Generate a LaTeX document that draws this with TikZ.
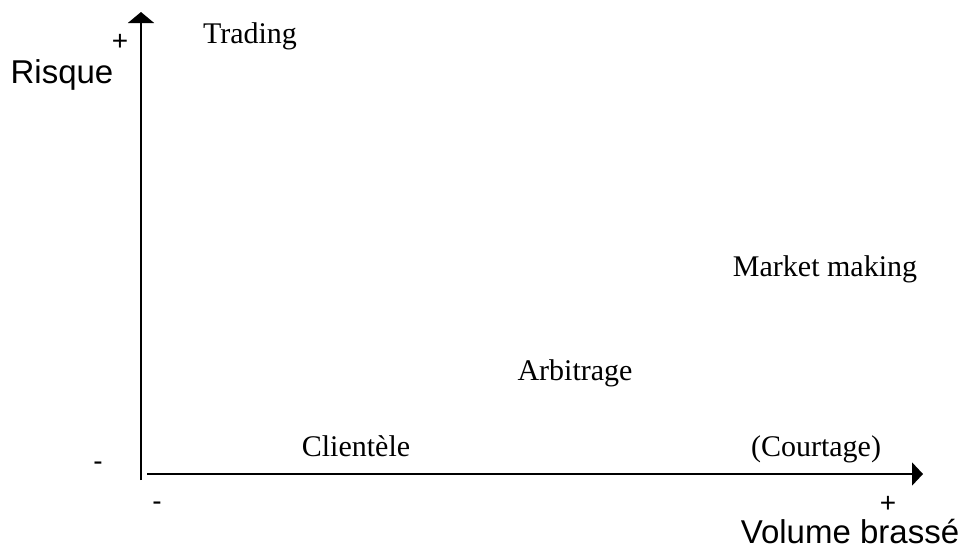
\documentclass[tikz,border=0pt]{standalone}
\usepackage{fontspec}
\setmainfont{Liberation Serif}
\newfontfamily\axisfont{Liberation Sans}
\usepackage{tikz}
\usetikzlibrary{arrows.meta}

\begin{document}
\begin{tikzpicture}[x=1pt,y=-1pt,
        axis/.style={line width=2pt},
        activity/.style={font=\fontsize{30}{36}\selectfont, text height=0.7em, text depth=0.2em},
        axislabel/.style={font=\axisfont\fontsize{33}{40}\selectfont},
        sign/.style={font=\axisfont\fontsize{28}{32}\selectfont}]
        \useasboundingbox (0,0) rectangle (968,552);
        \coordinate (ybot) at (141,480);
        \coordinate (ytop) at (141,12);
        \coordinate (xleft) at (147,474);
        \coordinate (xright) at (923,474);
        \draw [axis, -{Triangle[width=26pt,length=11pt]}] (ybot) -- (ytop);
        \draw [axis, -{Triangle[width=23pt,length=11pt]}] (xleft) -- (xright);
        \node[axislabel] (risque) at (62,75) {Risque};
        \node[axislabel] (volume) at (850,532) {Volume brass\'e};
        \node[sign] (yplus) at (120,42) {+};
        \node[sign] (yminus) at (98,466) {-};
        \node[sign] (xminus) at (157,506) {-};
        \node[sign] (xplus) at (888,504) {+};
        \node[activity] (trading) at (250,41) {Trading};
        \node[activity] (market) at (825,274) {Market making};
        \node[activity] (arbitrage) at (575,378) {Arbitrage};
        \node[activity] (clientele) at (356,454) {Client\`ele};
        \node[activity] (courtage) at (816,454) {(Courtage)};
        %\draw[dashed] (clientele) -- (courtage);
\end{tikzpicture}
\end{document}
